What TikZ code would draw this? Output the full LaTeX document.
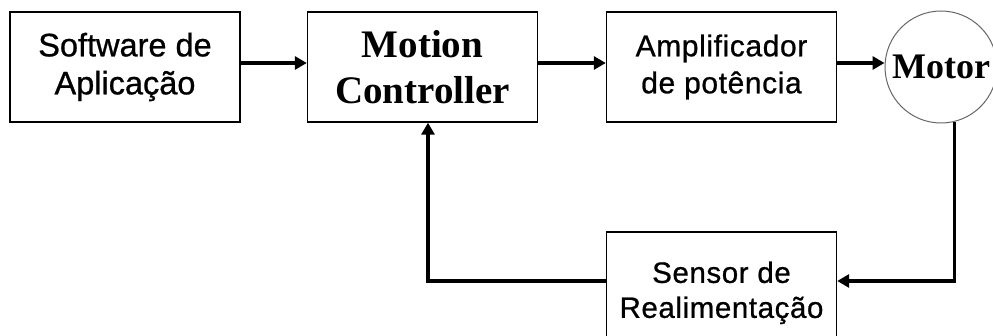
\documentclass[tikz,border=0pt]{standalone}
\usepackage{fontspec}
\usetikzlibrary{arrows.meta,positioning}
\newfontfamily\arialf[FakeBold=0.8]{Liberation Sans}
\newfontfamily\arialls[LetterSpace=2,FakeBold=0.8]{Liberation Sans}
\newfontfamily\timesf{Liberation Serif}
\begin{document}
\begin{tikzpicture}[x=1pt,y=-1pt,
  blockbox/.style={draw=black,line width=1.4pt,minimum width=230pt,minimum height=110pt,inner sep=0pt,align=center},
  arr/.style={line width=3.6pt,-{Triangle[length=12pt,width=13pt]}}]
\useasboundingbox (0,0) rectangle (993,336);
\clip (0,0) rectangle (993,336);
\fill[white] (0,0) rectangle (993,336);
\node[blockbox,font=\arialf\fontsize{32.5}{38}\selectfont] (soft) at (125,67) {Software de\\Aplicação};
\node[blockbox,font=\timesf\bfseries\fontsize{39}{46}\selectfont] (ctrl) at (422.5,67) {Motion\\Controller};
\node[blockbox,font=\arialls\fontsize{30}{37}\selectfont] (amp) at (721.5,67) {Amplificador\\de potência};
\node[draw=black!60,line width=1pt,circle,minimum size=112pt,inner sep=0pt,font=\timesf\bfseries\fontsize{36}{40}\selectfont] (motor) at (941,67) {Motor};
\node[blockbox,font=\arialls\fontsize{29.5}{35}\selectfont] (sens) at (721.5,287) {\rule{0pt}{33pt}Sensor de\\Realimentação};
\draw[arr] ([yshift=4pt]soft.east) -- ([yshift=4pt]ctrl.west);
\draw[arr] ([yshift=4pt]ctrl.east) -- ([yshift=4pt]amp.west);
\draw[arr] ([yshift=4pt]amp.east) -- ([yshift=4pt]motor.west);
\draw[arr] (motor.-76) |- ([yshift=6pt]sens.east);
\draw[arr] ([yshift=6pt]sens.west) -| ([xshift=5.5pt]ctrl.south);
\end{tikzpicture}
\end{document}
